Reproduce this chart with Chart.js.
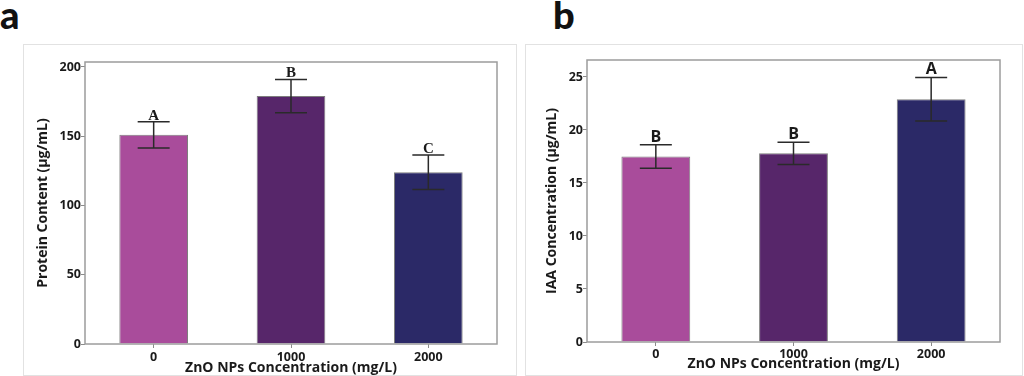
<!DOCTYPE html>
<html>
<head>
<meta charset="utf-8">
<script src="https://cdn.jsdelivr.net/npm/chart.js@4.4.0/dist/chart.umd.min.js"></script>
<style>
  body { margin: 0; background: #fff; width: 1024px; height: 376px; overflow: hidden; position: relative; font-family: "Open Sans", sans-serif; }
  .panel { position: absolute; border: 1px solid #e2e2e2; box-sizing: border-box; }
  .tag { position: absolute; font-family: Lato, sans-serif; font-weight: 900; font-size: 38px; line-height: 1; color: #111; }
  canvas { position: absolute; }
</style>
</head>
<body>
<div class="tag" style="left:0px; top:-5px;">a</div>
<div class="tag" style="left:553px; top:-5px;">b</div>
<div class="panel" style="left:23px; top:44px; width:494px; height:332px;"></div>
<div class="panel" style="left:525px; top:44px; width:498px; height:332px;"></div>
<canvas id="chartA" style="left:23px; top:44px;" width="493" height="331"></canvas>
<canvas id="chartB" style="left:525px; top:44px;" width="497" height="331"></canvas>
<script>
// data
const categories = ["0", "1000", "2000"];
const barColors = ["#a94c9b", "#57266a", "#2b2967"];

const proteinMeans = [151, 179, 124];
const proteinErrors = [9.5, 12, 12.5];
const proteinLetters = ["A", "B", "C"];
const proteinTicks = [0, 50, 100, 150, 200];

const iaaMeans = [17.5, 17.8, 22.9];
const iaaErrors = [1.1, 1.05, 2.05];
const iaaLetters = ["B", "B", "A"];
const iaaTicks = [0, 5, 10, 15, 20, 25];

// frame, error bars and letters
const extras = {
  id: "extras",
  afterDatasetsDraw(chart, args, opts) {
    const { ctx, chartArea, scales } = chart;
    const meta = chart.getDatasetMeta(0);
    ctx.save();
    ctx.strokeStyle = "#9c9c9c";
    ctx.lineWidth = 1.5;
    ctx.strokeRect(chartArea.left, chartArea.top, chartArea.right - chartArea.left, chartArea.bottom - chartArea.top);

    ctx.strokeStyle = "#2a2a2a";
    ctx.lineWidth = 1.5;
    meta.data.forEach((bar, i) => {
      const x = bar.x;
      const yHi = scales.y.getPixelForValue(opts.means[i] + opts.errors[i]);
      const yLo = scales.y.getPixelForValue(opts.means[i] - opts.errors[i]);
      ctx.beginPath();
      ctx.moveTo(x, yHi); ctx.lineTo(x, yLo);
      ctx.moveTo(x - 16, yHi); ctx.lineTo(x + 16, yHi);
      ctx.moveTo(x - 16, yLo); ctx.lineTo(x + 16, yLo);
      ctx.stroke();

      ctx.fillStyle = "#1a1a1a";
      ctx.font = opts.letterFont;
      ctx.textAlign = "center";
      ctx.textBaseline = "alphabetic";
      ctx.fillText(opts.letters[i], x, yHi - opts.letterGap);
    });
    ctx.restore();
  }
};

function makeChart(id, means, errors, letters, tickValues, cfg) {
  new Chart(document.getElementById(id), {
    type: "bar",
    data: {
      labels: categories,
      datasets: [{
        data: means,
        backgroundColor: barColors,
        borderColor: "#7d7d7d",
        borderWidth: 1,
        categoryPercentage: 1,
        barPercentage: 0.5
      }]
    },
    options: {
      responsive: false,
      animation: false,
      layout: { padding: { top: cfg.top, right: cfg.right, left: 0, bottom: 0 } },
      plugins: {
        legend: { display: false },
        tooltip: { enabled: false },
        extras: { means: means, errors: errors, letters: letters, letterFont: cfg.letterFont, letterGap: cfg.letterGap }
      },
      scales: {
        x: {
          afterFit: s => { s.height = cfg.xHeight; },
          grid: { display: true, offset: false, drawOnChartArea: false, drawTicks: true, tickLength: 4, color: "#8a8a8a" },
          border: { display: false },
          ticks: { color: "#1a1a1a", padding: cfg.xTickPad, font: { family: "Open Sans", weight: "bold", size: 12.5 } },
          title: {
            display: true,
            text: "ZnO NPs Concentration (mg/L)",
            color: "#1a1a1a",
            padding: { top: 0, bottom: cfg.xTitlePad },
            font: { family: "Open Sans", weight: "bold", size: 14 }
          }
        },
        y: {
          min: 0,
          max: cfg.max,
          afterFit: s => { s.width = 62; },
          afterBuildTicks: s => { s.ticks = tickValues.map(v => ({ value: v })); },
          grid: { display: true, drawOnChartArea: false, drawTicks: true, tickLength: 4, color: "#8a8a8a" },
          border: { display: false },
          ticks: { color: "#1a1a1a", padding: 0, font: { family: "Open Sans", weight: "bold", size: 12.5 } },
          title: {
            display: true,
            text: cfg.yTitle,
            color: "#1a1a1a",
            padding: { top: cfg.yTitlePad, bottom: 0 },
            font: { family: "Open Sans", weight: "bold", size: 14 }
          }
        }
      }
    },
    plugins: [extras]
  });
}

makeChart("chartA", proteinMeans, proteinErrors, proteinLetters, proteinTicks, {
  top: 18, right: 19, xHeight: 31, xTickPad: 2, xTitlePad: -1.5, yTitlePad: 11.5,
  max: 203.6, yTitle: "Protein Content (μg/mL)",
  letterFont: "bold 15px 'Liberation Serif'", letterGap: 2
});

makeChart("chartB", iaaMeans, iaaErrors, iaaLetters, iaaTicks, {
  top: 16, right: 22, xHeight: 33, xTickPad: 1, xTitlePad: 2.5, yTitlePad: 18.5,
  max: 26.6, yTitle: "IAA Concentration (μg/mL)",
  letterFont: "bold 16px 'Open Sans'", letterGap: 3
});
</script>
</body>
</html>
